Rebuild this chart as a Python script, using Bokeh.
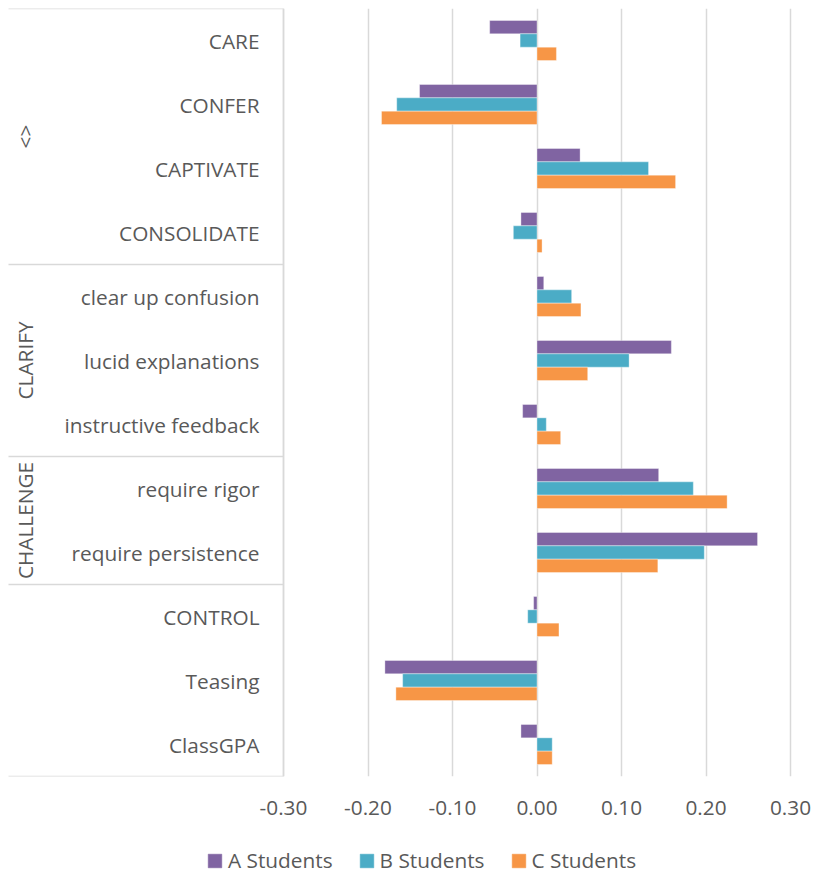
import math
from bokeh.plotting import figure
from bokeh.layouts import column
from bokeh.models import (Range1d, FixedTicker, NumeralTickFormatter, ColumnDataSource,
                          Legend, LegendItem)
from bokeh.core.properties import value
from bokeh.transform import dodge
from bokeh.embed import file_html
from bokeh.resources import INLINE

# ---------------- data ----------------
categories = ["CARE", "CONFER", "CAPTIVATE", "CONSOLIDATE",
              "clear up confusion", "lucid explanations", "instructive feedback",
              "require rigor", "require persistence",
              "CONTROL", "Teasing", "ClassGPA"]
groups = ["<>", "<>", "<>", "<>",
          "CLARIFY", "CLARIFY", "CLARIFY",
          "CHALLENGE", "CHALLENGE",
          "", "", ""]
a_students = [-0.056, -0.139, 0.051, -0.019, 0.008, 0.159, -0.017, 0.144, 0.261, -0.004, -0.180, -0.019]
b_students = [-0.020, -0.166, 0.132, -0.028, 0.041, 0.109, 0.011, 0.185, 0.198, -0.011, -0.159, 0.018]
c_students = [0.023, -0.184, 0.164, 0.006, 0.052, 0.060, 0.028, 0.225, 0.143, 0.026, -0.167, 0.018]
series_names = ["A Students", "B Students", "C Students"]
x_ticks = [-0.30, -0.20, -0.10, 0.00, 0.10, 0.20, 0.30]

# ---------------- style ----------------
colors = ["#8064A2", "#4BACC6", "#F79646"]
TEXT = "#595959"
GRID = "#D9D9D9"
FONT = "Open Sans"
FS = "20.8px"

W = 817
MAIN_H, LEG_H = 824, 50
LEFT, TOP = 8, 8
FRAME_W = 784      # frame width in px (label area + value area)
FRAME_H = 768
LABEL_W = 275      # label area width in px
DATA_W = 507       # px between first and last tick
n = len(categories)

px_per_unit = DATA_W / (x_ticks[-1] - x_ticks[0])
x_start = x_ticks[0] - LABEL_W / px_per_unit
x_end = x_start + FRAME_W / px_per_unit

p = figure(width=W, height=MAIN_H, output_backend="svg", toolbar_location=None,
           x_range=Range1d(x_start, x_end), y_range=Range1d(n, 0),
           y_axis_location=None, min_border_left=LEFT, min_border_right=W - LEFT - FRAME_W,
           min_border_top=TOP, min_border_bottom=MAIN_H - TOP - FRAME_H)
p.extra_x_ranges = {"lbl": Range1d(0, FRAME_W)}
p.outline_line_color = None
p.background_fill_color = "white"
p.border_fill_color = "white"

# grid & axis
p.xgrid.ticker = FixedTicker(ticks=x_ticks)
p.xgrid.grid_line_color = GRID
p.xgrid.grid_line_width = 1.5
p.ygrid.visible = False
ax = p.xaxis[0]
ax.ticker = FixedTicker(ticks=x_ticks)
ax.formatter = NumeralTickFormatter(format="0.00")
ax.axis_line_color = None
ax.major_tick_line_color = None
ax.minor_tick_line_color = None
ax.major_tick_out = 0
ax.major_tick_in = 0
ax.major_label_standoff = 24
ax.major_label_text_font = FONT
ax.major_label_text_font_size = FS
ax.major_label_text_color = TEXT

# bars
ys = [i + 0.5 for i in range(n)]
src = ColumnDataSource(dict(y=ys, a=a_students, b=b_students, c=c_students))
bh = 0.625 / 3
for k, (col, off) in enumerate(zip(["a", "b", "c"], [-bh, 0.0, bh])):
    p.hbar(y=dodge("y", off, range=p.y_range), left=0, right=col, height=bh,
           source=src, fill_color=colors[k], line_color="white", line_width=0.6,
           line_alpha=0.6)

# category labels
p.text(x=[LABEL_W - 24] * n, y=ys, text=categories, x_range_name="lbl",
       text_align="right", text_baseline="middle", text_font=value(FONT),
       text_font_size=value(FS), text_color=TEXT)

# group labels and separators
spans = []
start = 0
for i in range(1, n + 1):
    if i == n or groups[i] != groups[start]:
        spans.append((groups[start], start, i))
        start = i
gx, gy, gt = [], [], []
for name, s, e in spans:
    if name:
        gx.append(16)
        gy.append((s + e) / 2)
        gt.append(name)
p.text(x=gx, y=gy, text=gt, x_range_name="lbl", angle=math.pi / 2,
       text_align="center", text_baseline="middle", text_font=value(FONT),
       text_font_size=value(FS), text_color=TEXT)

bounds = [0] + [e for _, _, e in spans]
p.segment(x0=[-1] * len(bounds), y0=bounds, x1=[LABEL_W] * len(bounds), y1=bounds,
          x_range_name="lbl", line_color=GRID, line_width=1.5)
p.segment(x0=[LABEL_W], y0=[0], x1=[LABEL_W], y1=[n], x_range_name="lbl",
          line_color=GRID, line_width=1.5)

# legend (separate strip below); legend-only renderers sit outside the visible range
lf = figure(width=W, height=LEG_H, output_backend="svg", toolbar_location=None,
            x_range=Range1d(0, 1), y_range=Range1d(0, 1),
            x_axis_location=None, y_axis_location=None,
            min_border_left=0, min_border_right=0, min_border_top=0, min_border_bottom=0)
lf.outline_line_color = None
lf.xgrid.visible = False
lf.ygrid.visible = False
items = []
for nm, c in zip(series_names, colors):
    r = lf.hbar(y=[-5], left=[0], right=[1], height=0.1, fill_color=c,
                line_color=c, line_width=0.5)
    items.append(LegendItem(label=nm, renderers=[r]))
legend = Legend(items=items, orientation="horizontal", location=(198, 0),
                glyph_width=17, glyph_height=17, label_standoff=5, spacing=25,
                padding=0, margin=0, border_line_color=None, background_fill_alpha=0,
                label_text_font=FONT, label_text_font_size=FS, label_text_color=TEXT)
lf.add_layout(legend, "center")

layout = column(p, lf, spacing=0)
open("out.html", "w").write(file_html(layout, INLINE))
